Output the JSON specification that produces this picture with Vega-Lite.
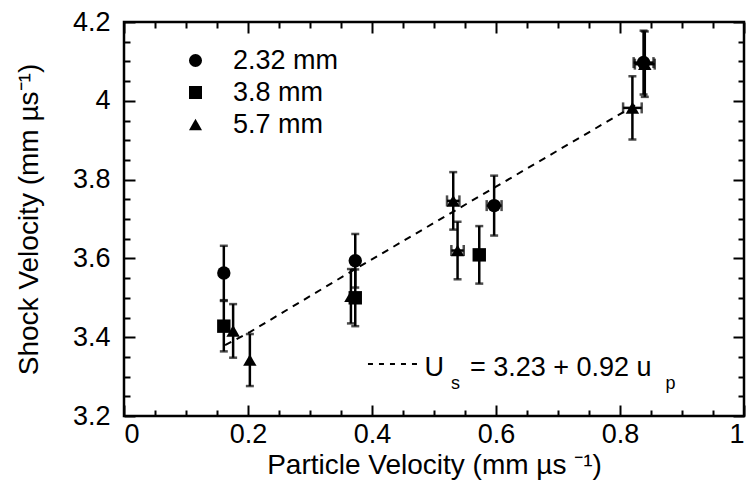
{
  "$schema": "https://vega.github.io/schema/vega-lite/v6.json",
  "width": 620,
  "height": 394,
  "autosize": {"type": "none"},
  "padding": {"left": 124, "top": 22, "right": 4, "bottom": 74},
  "background": "white",
  "config": {
    "view": {"stroke": "black", "strokeWidth": 2.5},
    "font": "Liberation Sans",
    "axis": {
      "domain": false,
      "grid": false,
      "tickColor": "black",
      "tickWidth": 2,
      "labelColor": "black",
      "titleColor": "black",
      "labelFont": "Liberation Sans",
      "titleFont": "Liberation Sans",
      "labelFontSize": 27,
      "titleFontSize": 28,
      "titleFontWeight": "normal"
    }
  },
  "datasets": {
    "pts": [
      {"series": "2.32 mm", "up": 0.161, "us": 3.563, "eus": 0.069, "eup": 0},
      {"series": "2.32 mm", "up": 0.373, "us": 3.594, "eus": 0.068, "eup": 0},
      {"series": "2.32 mm", "up": 0.597, "us": 3.734, "eus": 0.076, "eup": 0.012},
      {"series": "2.32 mm", "up": 0.838, "us": 4.097, "eus": 0.081, "eup": 0.016},
      {"series": "3.8 mm", "up": 0.161, "us": 3.428, "eus": 0.064, "eup": 0},
      {"series": "3.8 mm", "up": 0.373, "us": 3.5, "eus": 0.072, "eup": 0},
      {"series": "3.8 mm", "up": 0.573, "us": 3.609, "eus": 0.073, "eup": 0},
      {"series": "5.7 mm", "up": 0.176, "us": 3.416, "eus": 0.068, "eup": 0},
      {"series": "5.7 mm", "up": 0.203, "us": 3.342, "eus": 0.066, "eup": 0},
      {"series": "5.7 mm", "up": 0.366, "us": 3.504, "eus": 0.069, "eup": 0},
      {"series": "5.7 mm", "up": 0.531, "us": 3.746, "eus": 0.073, "eup": 0.01},
      {"series": "5.7 mm", "up": 0.538, "us": 3.62, "eus": 0.073, "eup": 0.01},
      {"series": "5.7 mm", "up": 0.82, "us": 3.982, "eus": 0.08, "eup": 0.015},
      {"series": "5.7 mm", "up": 0.84, "us": 4.093, "eus": 0.083, "eup": 0.016}
    ],
    "fit": [
      {"up": 0.163, "us": 3.38},
      {"up": 0.203, "us": 3.413},
      {"up": 0.37, "us": 3.57},
      {"up": 0.54, "us": 3.727},
      {"up": 0.6, "us": 3.782},
      {"up": 0.83, "us": 3.994}
    ],
    "one": [{"k": 1}]
  },
  "layer": [
    {
      "data": {"name": "fit"},
      "mark": {"type": "line", "color": "black", "strokeWidth": 2, "strokeDash": [7, 6]},
      "encoding": {
        "x": {
          "field": "up", "type": "quantitative",
          "scale": {"domain": [0, 1], "nice": false, "zero": false},
          "axis": {
            "orient": "bottom",
            "values": [0, 0.05, 0.1, 0.15, 0.2, 0.25, 0.3, 0.35, 0.4, 0.45, 0.5, 0.55, 0.6, 0.65, 0.7, 0.75, 0.8, 0.85, 0.9, 0.95, 1],
            "tickSize": {"condition": {"test": "abs(datum.value * 5 - round(datum.value * 5)) < 0.001", "value": -11}, "value": -6},
            "labelPadding": 16,
            "labelExpr": "abs(datum.value * 5 - round(datum.value * 5)) >= 0.001 ? '' : datum.value == 0 ? '0' : datum.value == 1 ? '1' : format(datum.value, '.1f')",
            "title": "Particle Velocity (mm µs ⁻¹)", "titlePadding": 4
          }
        },
        "y": {
          "field": "us", "type": "quantitative",
          "scale": {"domain": [3.2, 4.2], "nice": false, "zero": false},
          "axis": {
            "orient": "left",
            "values": [3.2, 3.25, 3.3, 3.35, 3.4, 3.45, 3.5, 3.55, 3.6, 3.65, 3.7, 3.75, 3.8, 3.85, 3.9, 3.95, 4, 4.05, 4.1, 4.15, 4.2],
            "tickSize": {"condition": {"test": "abs(datum.value * 5 - round(datum.value * 5)) < 0.001", "value": -11}, "value": -6},
            "labelPadding": 25,
            "labelExpr": "abs(datum.value * 5 - round(datum.value * 5)) >= 0.001 ? '' : datum.value == 4 ? '4' : format(datum.value, '.1f')",
            "title": "Shock Velocity (mm µs⁻¹)", "titlePadding": 29
          }
        }
      }
    },
    {
      "data": {"name": "pts"},
      "mark": {"type": "errorbar", "color": "black", "thickness": 2.5, "ticks": {"size": 8, "thickness": 2.5, "color": "black"}},
      "encoding": {
        "x": {"field": "up", "type": "quantitative", "axis": null},
        "y": {"field": "us", "type": "quantitative", "axis": null},
        "yError": {"field": "eus"}
      }
    },
    {
      "data": {"name": "pts"},
      "transform": [{"filter": "datum.eup > 0"}],
      "mark": {"type": "errorbar", "color": "black", "thickness": 2.5, "ticks": {"size": 11, "thickness": 2.5, "color": "black"}},
      "encoding": {
        "y": {"field": "us", "type": "quantitative", "axis": null},
        "x": {"field": "up", "type": "quantitative", "axis": null},
        "xError": {"field": "eup"}
      }
    },
    {
      "data": {"name": "pts"},
      "mark": {"type": "point", "filled": true, "color": "black", "opacity": 1, "size": 180},
      "encoding": {
        "x": {
          "field": "up", "type": "quantitative",
          "axis": {
            "orient": "top",
            "values": [0, 0.05, 0.1, 0.15, 0.2, 0.25, 0.3, 0.35, 0.4, 0.45, 0.5, 0.55, 0.6, 0.65, 0.7, 0.75, 0.8, 0.85, 0.9, 0.95, 1],
            "tickSize": {"condition": {"test": "abs(datum.value * 5 - round(datum.value * 5)) < 0.001", "value": -11}, "value": -6},
            "labels": false, "title": null
          }
        },
        "y": {
          "field": "us", "type": "quantitative",
          "axis": {
            "orient": "right",
            "values": [3.2, 3.25, 3.3, 3.35, 3.4, 3.45, 3.5, 3.55, 3.6, 3.65, 3.7, 3.75, 3.8, 3.85, 3.9, 3.95, 4, 4.05, 4.1, 4.15, 4.2],
            "tickSize": {"condition": {"test": "abs(datum.value * 5 - round(datum.value * 5)) < 0.001", "value": -11}, "value": -6},
            "labels": false, "title": null
          }
        },
        "shape": {
          "field": "series", "type": "nominal",
          "scale": {"domain": ["2.32 mm", "3.8 mm", "5.7 mm"], "range": ["circle", "square", "triangle-up"]},
          "legend": {
            "title": null, "orient": "none", "legendX": 58, "legendY": 25,
            "labelFontSize": 27, "labelFont": "Liberation Sans", "labelColor": "black",
            "symbolSize": 170, "symbolFillColor": "black", "symbolStrokeColor": "black", "symbolStrokeWidth": 0,
            "rowPadding": 4, "labelOffset": 24, "padding": 0
          }
        }
      }
    },
    {
      "data": {"name": "one"},
      "mark": {"type": "rule", "color": "black", "strokeWidth": 2, "strokeDash": [5, 6]},
      "encoding": {
        "x": {"datum": 0.3935, "type": "quantitative", "axis": null},
        "x2": {"datum": 0.482},
        "y": {"datum": 3.332, "type": "quantitative", "axis": null}
      }
    },
    {
      "data": {"name": "one"},
      "mark": {"type": "text", "align": "left", "baseline": "alphabetic", "fontSize": 27, "font": "Liberation Sans", "color": "black"},
      "encoding": {
        "x": {"datum": 0.4846, "type": "quantitative", "axis": null},
        "y": {"datum": 3.3015, "type": "quantitative", "axis": null},
        "text": {"value": "U"}
      }
    },
    {
      "data": {"name": "one"},
      "mark": {"type": "text", "align": "left", "baseline": "alphabetic", "fontSize": 18, "font": "Liberation Sans", "color": "black"},
      "encoding": {
        "x": {"datum": 0.5274, "type": "quantitative", "axis": null},
        "y": {"datum": 3.2685, "type": "quantitative", "axis": null},
        "text": {"value": "s"}
      }
    },
    {
      "data": {"name": "one"},
      "mark": {"type": "text", "align": "left", "baseline": "alphabetic", "fontSize": 27, "font": "Liberation Sans", "color": "black"},
      "encoding": {
        "x": {"datum": 0.558, "type": "quantitative", "axis": null},
        "y": {"datum": 3.3015, "type": "quantitative", "axis": null},
        "text": {"value": "= 3.23 + 0.92 u"}
      }
    },
    {
      "data": {"name": "one"},
      "mark": {"type": "text", "align": "left", "baseline": "alphabetic", "fontSize": 18, "font": "Liberation Sans", "color": "black"},
      "encoding": {
        "x": {"datum": 0.8732, "type": "quantitative", "axis": null},
        "y": {"datum": 3.2685, "type": "quantitative", "axis": null},
        "text": {"value": "p"}
      }
    }
  ],
  "resolve": {"axis": {"x": "independent", "y": "independent"}}
}
